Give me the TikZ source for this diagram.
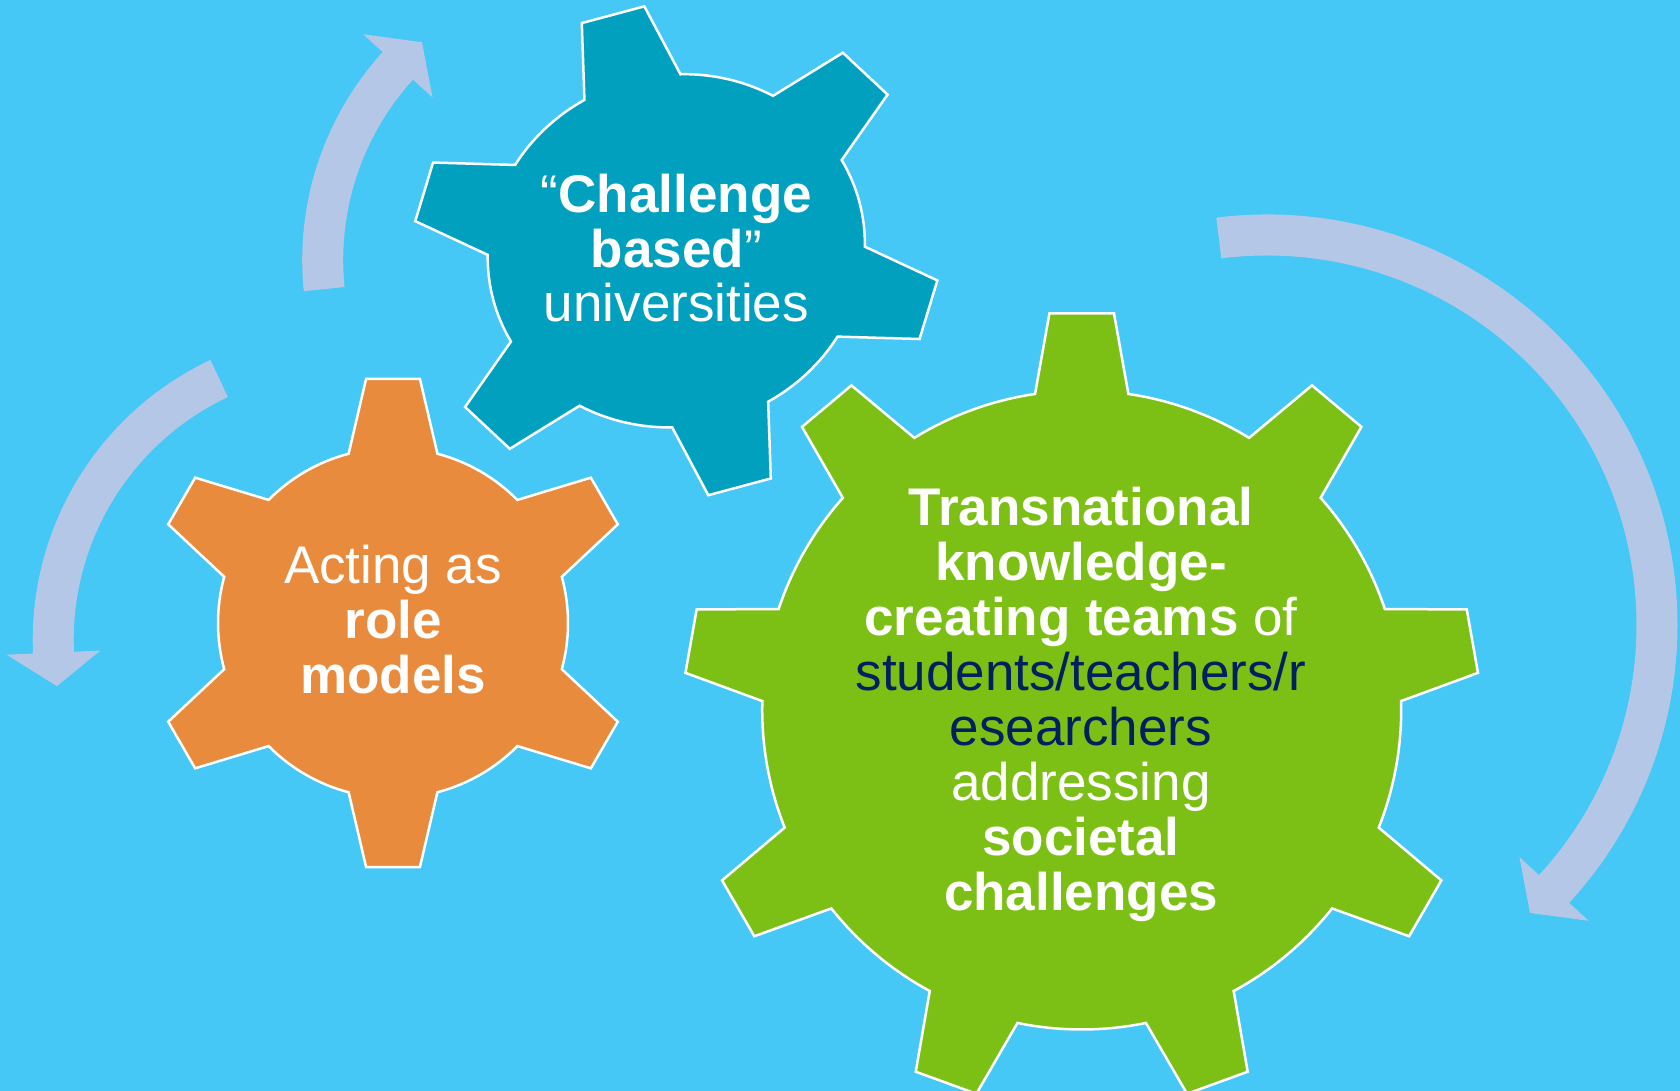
\documentclass[tikz,border=0pt]{standalone}
\usepackage{fontspec}
\setmainfont{Liberation Sans}

\definecolor{sky}{RGB}{69,200,245}
\definecolor{tealgear}{RGB}{0,160,190}
\definecolor{orangegear}{RGB}{233,139,61}
\definecolor{greengear}{RGB}{124,192,22}
\definecolor{arrowblue}{RGB}{180,199,231}
\definecolor{navy}{RGB}{0,32,96}

\tikzset{
  gear/.style={draw=white, line width=2.5pt, line join=miter},
  cyclearrow/.style={fill=arrowblue},
  gearlabel/.style={text=white, anchor=base, inner sep=0pt, font=\fontsize{53}{55}\selectfont}
}

\begin{document}
\begin{tikzpicture}[x=1pt,y=1pt]
  \fill[sky] (0,0) rectangle (1680,1091);
  \useasboundingbox (0,0) rectangle (1680,1091);

  % the three curved arrows: centre, start, end, tip angle, mid radius
  \foreach \cx/\cy/\from/\to/\tip/\r in {611.2/831/185.8/137.7/131/288.5, 342.2/451/115.2/182.5/189.2/289, 1267/466/97.1/-42.6/-47.6/390}
    \fill[cyclearrow, shift={(\cx,\cy)}] ({\from}:{\r+20.5}) arc[start angle=\from, end angle=\to, radius=\r+20.5]
      -- ({\to}:{\r+47}) -- ({\tip}:{\r}) -- ({\to}:{\r-47}) -- ({\to}:{\r-20.5})
      arc[start angle=\to, end angle=\from, radius=\r-20.5] -- cycle;

  \coordinate (uni) at (676.3,840.2);
  \coordinate (role) at (393,468);
  \coordinate (teams) at (1081.7,381);

  % gears
  \draw[gear, fill=tealgear, shift={(uni)}, rotate=15, yscale=0.927] ({90-15.2}:189.5)
    \foreach \k in {0,...,5} {
      -- ({90+60*\k-7}:265.6) -- ({90+60*\k+7}:265.6) -- ({90+60*\k+15.2}:189.5)
      arc[start angle={90+60*\k+15.2}, end angle={150+60*\k-15.2}, radius=189.5]
    } -- cycle;
  \draw[gear, fill=orangegear, shift={(role)}] ({90-14.7}:175)
    \foreach \k in {0,...,5} {
      -- ({90+60*\k-6.3}:245.5) -- ({90+60*\k+6.3}:245.5) -- ({90+60*\k+14.7}:175)
      arc[start angle={90+60*\k+14.7}, end angle={150+60*\k-14.7}, radius=175]
    } -- cycle;
  \draw[gear, fill=greengear, shift={(teams)}] ({90-8.4}:319.5)
    \foreach \k in {0,...,8} {
      -- ({90+40*\k-4.65}:398) -- ({90+40*\k+4.65}:398) -- ({90+40*\k+8.4}:319.5)
      arc[start angle={90+40*\k+8.4}, end angle={130+40*\k-8.4}, radius=319.5]
    } -- cycle;

  % labels, one node per line
  \foreach \txt [count=\i] in {{“\textbf{Challenge}}, {\textbf{based}”}, universities}
    \node[gearlabel] (uni-\i) at (676.4,{878.3-54.5*(\i-1)}) {\txt};
  \foreach \txt [count=\i] in {Acting as, {\bfseries role}, {\bfseries models}}
    \node[gearlabel] (role-\i) at (393,{507-55*(\i-1)}) {\txt};
  \foreach \txt [count=\i] in {{\bfseries Transnational}, {\bfseries knowledge-}, {{\bfseries creating teams} of},
      {{\color{navy}students/teachers/r}}, {{\color{navy}esearchers}}, addressing, {\bfseries societal}, {\bfseries challenges}}
    \node[gearlabel] (teams-\i) at (1081,{565.5-55*(\i-1)}) {\txt};
\end{tikzpicture}
\end{document}
